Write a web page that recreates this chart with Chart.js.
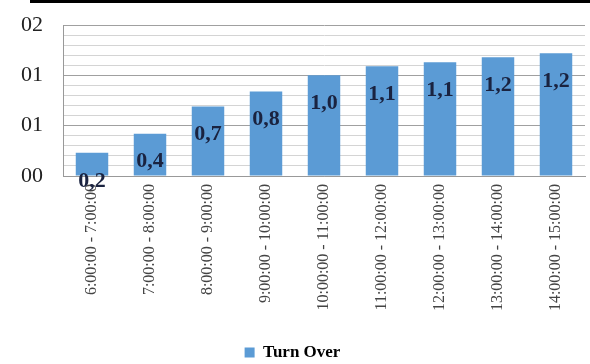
<!DOCTYPE html>
<html>
<head>
<meta charset="utf-8">
<script src="https://cdn.jsdelivr.net/npm/chart.js@4/dist/chart.umd.min.js"></script>
<style>
  html, body { margin: 0; padding: 0; background: #fff; }
  #wrap { position: relative; width: 590px; height: 364px; }
  #topline { position: absolute; left: 30px; top: 0; width: 560px; height: 3px; background: #000; }
</style>
</head>
<body>
<div id="wrap">
  <div id="topline"></div>
  <canvas id="chartTurnOver" width="590" height="364"></canvas>
</div>
<script>
var hours = [
  '6:00:00 - 7:00:00', '7:00:00 - 8:00:00', '8:00:00 - 9:00:00',
  '9:00:00 - 10:00:00', '10:00:00 - 11:00:00', '11:00:00 - 12:00:00',
  '12:00:00 - 13:00:00', '13:00:00 - 14:00:00', '14:00:00 - 15:00:00'
];
var turnOver = [0.23, 0.42, 0.69, 0.84, 1.0, 1.09, 1.13, 1.18, 1.22];

// value labels a bit below the top of each bar, like the excel export
var barLabels = {
  id: 'barLabels',
  afterDatasetsDraw: function (chart) {
    var ctx = chart.ctx;
    var meta = chart.getDatasetMeta(0);
    ctx.save();
    ctx.font = 'bold 22px "Liberation Serif", serif';
    ctx.fillStyle = '#1a2340';
    ctx.textAlign = 'center';
    ctx.textBaseline = 'middle';
    meta.data.forEach(function (bar, i) {
      var txt = turnOver[i].toFixed(1).replace('.', ',');
      ctx.fillText(txt, bar.x, bar.y + 28);
    });
    ctx.restore();
  }
};

function renderTurnOverChart() {
  var chartTurnOver = document.getElementById('chartTurnOver');
  if (chartTurnOver) {
    new Chart(chartTurnOver, {
      type: 'bar',
      data: {
        labels: hours,
        datasets: [{
          label: 'Turn Over',
          data: turnOver,
          backgroundColor: '#5b9bd5',
          barPercentage: 0.56,
          categoryPercentage: 1.0
        }]
      },
      plugins: [barLabels],
      options: {
        responsive: false,
        animation: false,
        layout: { padding: { top: 25, right: 5, left: 0, bottom: -7 } },
        plugins: {
          legend: {
            position: 'bottom',
            labels: {
              boxWidth: 10,
              boxHeight: 10,
              padding: 2,
              color: '#000',
              font: { family: '"Liberation Serif", serif', size: 17, weight: 'bold' }
            }
          },
          tooltip: { enabled: false }
        },
        scales: {
          x: {
            grid: { display: true, drawOnChartArea: false, drawTicks: false, color: 'transparent' },
            border: { display: true, color: '#999' },
            ticks: {
              autoSkip: false,
              maxRotation: 90,
              minRotation: 90,
              padding: 8,
              color: '#444',
              font: { family: '"Liberation Serif", serif', size: 16 }
            },
            afterFit: function (scale) { scale.height = 166; }
          },
          y: {
            min: 0,
            max: 1.5,
            grid: {
              drawTicks: true,
              tickLength: 20,
              tickColor: 'transparent',
              color: function (c) {
                return Math.round(c.tick.value * 10) % 5 === 0 ? '#a0a0a0' : '#d4d4d4';
              }
            },
            border: { display: true, color: '#999' },
            ticks: {
              stepSize: 0.1,
              autoSkip: false,
              padding: 0,
              color: '#222',
              font: { family: '"Liberation Serif", serif', size: 22 },
              callback: function (v) {
                if (Math.round(v * 10) % 5 !== 0) return '';
                return String(Math.round(v)).padStart(2, '0');
              }
            },
            afterFit: function (scale) { scale.width = 63; }
          }
        }
      }
    });
  }
}

renderTurnOverChart();
</script>
</body>
</html>
